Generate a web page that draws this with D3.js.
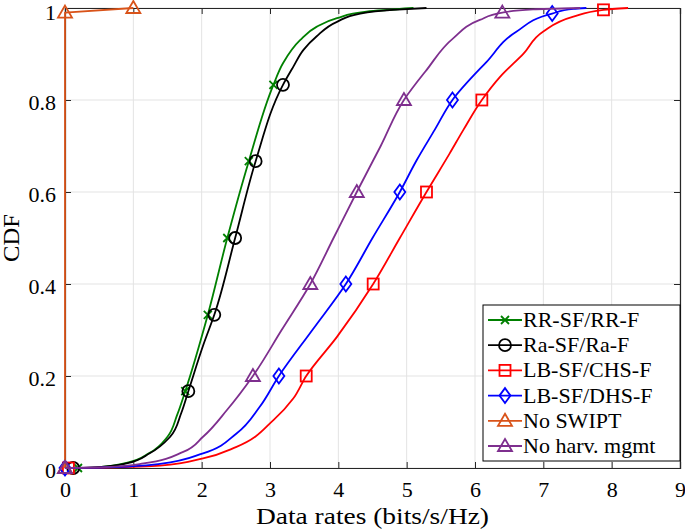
<!DOCTYPE html>
<html><head><meta charset="utf-8">
<script src="https://cdn.jsdelivr.net/npm/d3@7"></script>
<style>body{margin:0;background:#fff}svg{display:block}</style>
</head><body>
<script>
// ---- data ----
const seriesNames = ["RR-SF/RR-F","Ra-SF/Ra-F","LB-SF/CHS-F","LB-SF/DHS-F","No SWIPT","No harv. mgmt"];
const seriesColors = ["#008000","#000000","#ff0000","#0000ff","#D95319","#7E2F8E"];
const seriesMarkers = ["x","circle","square","diamond","triangle","triangle"];

const rrX = [0.19,0.5,0.9,1.24,1.5,1.64,1.76,2.09,2.375,2.69,3.05,3.19,3.44,3.68,3.98,4.41,5.10];
const rrY = [0,0.002,0.011,0.033,0.068,0.115,0.167,0.333,0.5,0.667,0.833,0.88,0.93,0.959,0.978,0.992,1.0];
const raX = [0.12,0.5,0.9,1.24,1.54,1.70,1.805,2.03,2.185,2.49,2.79,3.19,3.34,3.49,3.68,3.98,4.32,4.80,5.29];
const raY = [0,0.002,0.010,0.032,0.068,0.119,0.167,0.27,0.333,0.5,0.667,0.833,0.872,0.909,0.938,0.970,0.988,0.996,1.0];
const chsX = [0.05,0.6,1.39,2.02,2.51,3.05,3.34,3.53,3.98,4.51,4.9,5.29,5.63,5.83,6.10,6.37,6.71,7.0,7.44,7.88,8.24];
const chsY = [0,0.001,0.005,0.021,0.046,0.104,0.151,0.2,0.285,0.4,0.5,0.6,0.684,0.735,0.8,0.851,0.901,0.949,0.981,0.996,1.0];
const dhsX = [0,0.5,1.0,1.39,2.02,2.51,2.85,3.13,3.62,4.11,4.5,4.90,5.15,5.41,5.67,6.17,6.61,7.13,7.44,7.63];
const dhsY = [0,0.001,0.004,0.009,0.032,0.075,0.133,0.2,0.3,0.4,0.5,0.6,0.67,0.735,0.8,0.883,0.949,0.988,0.998,1.0];
const noSwiptX = [0,0,1];
const noSwiptY = [0,0.99,1.0];
const noHarvX = [0,0.6,1.15,1.73,2.02,2.37,2.75,3.17,3.59,3.93,4.27,4.62,4.96,5.29,5.68,6.07,6.40,6.85,7.54];
const noHarvY = [0,0.002,0.010,0.035,0.068,0.126,0.2,0.3,0.4,0.5,0.6,0.7,0.8,0.865,0.934,0.974,0.99,0.997,1.0];

// marker positions
const rrMX = [0.19,1.76,2.09,2.375,2.69,3.05];
const rrMY = [0,0.167,0.333,0.5,0.667,0.833];
const raMX = [0.12,1.805,2.185,2.49,2.79,3.19];
const raMY = [0,0.167,0.333,0.5,0.667,0.833];
const chsMX = [0.05,3.53,4.51,5.29,6.10,7.88];
const chsMY = [0,0.2,0.4,0.6,0.8,0.996];
const dhsMX = [0,3.13,4.11,4.90,5.67,7.13];
const dhsMY = [0,0.2,0.4,0.6,0.8,0.988];
const noSwiptMX = [0,0,1];
const noSwiptMY = [0,0.99,1.0];
const noHarvMX = [0,2.75,3.59,4.27,4.96,6.40];
const noHarvMY = [0,0.2,0.4,0.6,0.8,0.99];

const xTicks = [0,1,2,3,4,5,6,7,8,9];
const yTicks = [0,0.2,0.4,0.6,0.8,1];
const yTickLabels = ["0","0.2","0.4","0.6","0.8","1"];
const xLabel = "Data rates (bits/s/Hz)";
const yLabel = "CDF";

const lineX = [rrX,raX,chsX,dhsX,noSwiptX,noHarvX];
const lineY = [rrY,raY,chsY,dhsY,noSwiptY,noHarvY];
const markX = [rrMX,raMX,chsMX,dhsMX,noSwiptMX,noHarvMX];
const markY = [rrMY,raMY,chsMY,dhsMY,noSwiptMY,noHarvMY];

// ---- layout ----
const FONT = '"Liberation Serif", Tinos, "Times New Roman", Times, "DejaVu Serif", serif';
const W = 685, H = 530;
const m = {left:65, right:5, top:8, bottom:62};
const pw = W - m.left - m.right, ph = H - m.top - m.bottom;

const svg = d3.select("body").append("svg").attr("width",W).attr("height",H);
const x = d3.scaleLinear().domain([0,9]).range([m.left, m.left+pw]);
const y = d3.scaleLinear().domain([0,1]).range([m.top+ph, m.top]);

// grid
const g = svg.append("g");
g.selectAll("line.gx").data(xTicks).join("line")
  .attr("x1",d=>x(d)).attr("x2",d=>x(d)).attr("y1",y(0)).attr("y2",y(1))
  .attr("stroke","#e3e3e3").attr("stroke-width",1);
g.selectAll("line.gy").data(yTicks).join("line")
  .attr("y1",d=>y(d)).attr("y2",d=>y(d)).attr("x1",x(0)).attr("x2",x(9))
  .attr("stroke","#e3e3e3").attr("stroke-width",1);

// axes
const axColor = "#262626";
const xAxB = svg.append("g").attr("transform",`translate(0,${y(0)})`)
  .call(d3.axisBottom(x).tickValues(xTicks).tickSize(-6).tickPadding(13).tickFormat(d3.format("d")));
const xAxT = svg.append("g").attr("transform",`translate(0,${y(1)})`)
  .call(d3.axisTop(x).tickValues(xTicks).tickSize(-6).tickFormat(""));
const yAxL = svg.append("g").attr("transform",`translate(${x(0)},0)`)
  .call(d3.axisLeft(y).tickValues(yTicks).tickSize(-6).tickPadding(9).tickFormat((d,i)=>yTickLabels[i]));
const yAxR = svg.append("g").attr("transform",`translate(${x(9)},0)`)
  .call(d3.axisRight(y).tickValues(yTicks).tickSize(-6).tickFormat(""));
[xAxB,xAxT,yAxL,yAxR].forEach(a=>{
  a.select(".domain").attr("stroke",axColor).attr("stroke-width",1.2);
  a.selectAll(".tick line").attr("stroke",axColor).attr("stroke-width",1);
  a.selectAll("text").style("font-family",FONT).style("font-size","22px").attr("fill","#000");
});
yAxL.selectAll(".tick text").attr("dy", d => d === 1 ? "0.53em" : "0.44em");

// axis labels
svg.append("text").attr("x",x(4.5)).attr("y",H-6).attr("text-anchor","middle")
  .style("font-family",FONT).style("font-size","23px")
  .attr("textLength",233).attr("lengthAdjust","spacingAndGlyphs").text(xLabel);
svg.append("text").attr("transform",`translate(19,${y(0.5)}) rotate(-90)`).attr("text-anchor","middle")
  .style("font-family",FONT).style("font-size","23px")
  .attr("textLength",48).attr("lengthAdjust","spacingAndGlyphs").text(yLabel);

// markers
function drawMarker(sel, type, color){
  if(type==="x"){
    sel.append("path").attr("d","M-4,-4L4,4M-4,4L4,-4").attr("stroke",color).attr("stroke-width",1.8).attr("fill","none");
  } else if(type==="circle"){
    sel.append("circle").attr("r",6).attr("stroke",color).attr("stroke-width",1.8).attr("fill","none");
  } else if(type==="square"){
    sel.append("rect").attr("x",-5.5).attr("y",-5.5).attr("width",11).attr("height",11).attr("stroke",color).attr("stroke-width",1.8).attr("fill","none");
  } else if(type==="diamond"){
    sel.append("path").attr("d","M0,-7.5L5.5,0L0,7.5L-5.5,0Z").attr("stroke",color).attr("stroke-width",1.8).attr("fill","none");
  } else if(type==="triangle"){
    sel.append("path").attr("d","M0,-7L7,5L-7,5Z").attr("stroke",color).attr("stroke-width",1.8).attr("fill","none");
  }
}

const plot = svg.append("g");
seriesNames.forEach((name,i)=>{
  const pts = lineX[i].map((v,j)=>[v,lineY[i][j]]);
  const line = d3.line().x(d=>x(d[0])).y(d=>y(d[1]));
  if(i!==4) line.curve(d3.curveMonotoneY);
  plot.append("path").datum(pts).attr("d",line).attr("fill","none")
    .attr("stroke",seriesColors[i]).attr("stroke-width",1.8).attr("stroke-linejoin","round");
  markX[i].forEach((mx,j)=>{
    const gm = plot.append("g").attr("transform",`translate(${x(mx)},${y(markY[i][j])})`);
    drawMarker(gm, seriesMarkers[i], seriesColors[i]);
  });
});

// legend
const lg = svg.append("g");
const lx0 = 483, ly0 = 305, lw = 197, lh = 156;
lg.append("rect").attr("x",lx0).attr("y",ly0).attr("width",lw).attr("height",lh)
  .attr("fill","#fff").attr("stroke","#000").attr("stroke-width",1);
seriesNames.forEach((name,i)=>{
  const cy = ly0 + 15 + i*25.2;
  lg.append("line").attr("x1",lx0+5).attr("x2",lx0+39).attr("y1",cy).attr("y2",cy)
    .attr("stroke",seriesColors[i]).attr("stroke-width",1.8);
  const gm = lg.append("g").attr("transform",`translate(${lx0+22},${cy})`);
  drawMarker(gm, seriesMarkers[i], seriesColors[i]);
  lg.append("text").attr("x",lx0+40).attr("y",cy+7).style("font-family",FONT).style("font-size","22px").text(name);
});
</script>
</body></html>
